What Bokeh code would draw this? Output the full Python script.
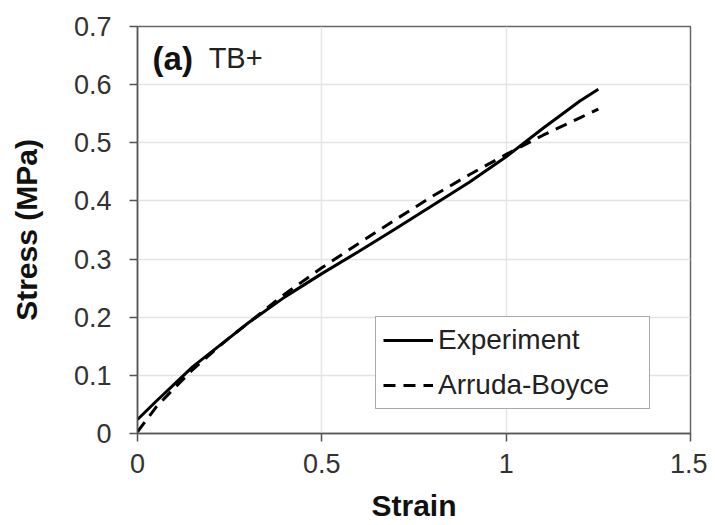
from bokeh.plotting import figure
from bokeh.models import Range1d, FixedTicker, NumeralTickFormatter, Label, Legend, LegendItem
from bokeh.embed import file_html
from bokeh.resources import INLINE

# ---- data ----
strain = [0, 0.05, 0.1, 0.15, 0.2, 0.25, 0.3, 0.4, 0.5, 0.6, 0.7, 0.8, 0.9, 1.0, 1.1, 1.2, 1.25]
experiment = [0.024, 0.055, 0.085, 0.115, 0.14, 0.165, 0.19, 0.235, 0.275, 0.313, 0.352,
              0.392, 0.432, 0.476, 0.525, 0.572, 0.592]
arruda_boyce = [0.003, 0.045, 0.078, 0.11, 0.138, 0.165, 0.19, 0.24, 0.285, 0.327, 0.368,
                0.408, 0.445, 0.48, 0.513, 0.543, 0.558]
x_ticks = [0, 0.5, 1, 1.5]
y_ticks = [0, 0.1, 0.2, 0.3, 0.4, 0.5, 0.6, 0.7]
series_names = ["Experiment", "Arruda-Boyce"]
panel_tag = "(a)"
panel_name = "TB+"

FONT = "Liberation Sans"

p = figure(frame_width=553, frame_height=407,
           min_border_left=137, min_border_right=17, min_border_top=26, min_border_bottom=60,
           output_backend="svg", toolbar_location=None,
           x_range=Range1d(0, 1.5), y_range=Range1d(0, 0.7))
p.background_fill_color = "white"
p.border_fill_color = "white"
p.outline_line_color = "#666666"
p.outline_line_width = 1.5

for ax in (p.xaxis[0], p.yaxis[0]):
    ax.axis_line_color = "#555555"
    ax.axis_line_width = 1.5
    ax.major_tick_line_color = "#555555"
    ax.major_tick_line_width = 1.5
    ax.major_tick_in = 0
    ax.major_tick_out = 8
    ax.minor_tick_line_color = None
    ax.major_label_text_font = FONT
    ax.major_label_text_font_size = "27px"
    ax.major_label_text_color = "#333333"
    ax.axis_label_text_font = FONT
    ax.axis_label_text_font_size = "30px"
    ax.axis_label_text_font_style = "bold"
    ax.axis_label_text_color = "#111111"
    ax.formatter = NumeralTickFormatter(format="0.[0]")

p.xaxis[0].ticker = FixedTicker(ticks=x_ticks)
p.yaxis[0].ticker = FixedTicker(ticks=y_ticks)
p.xaxis[0].axis_label = "Strain"
p.yaxis[0].axis_label = "Stress (MPa)"
p.xaxis[0].major_label_standoff = 12
p.xaxis[0].axis_label_standoff = 13
p.yaxis[0].major_label_standoff = 18
p.yaxis[0].axis_label_standoff = 28

p.xgrid.grid_line_color = "#e4e4e4"
p.ygrid.grid_line_color = "#e4e4e4"
p.xgrid.grid_line_width = 1.5
p.ygrid.grid_line_width = 1.5

r_exp = p.line(strain, experiment, line_color="black", line_width=3)
r_ab = p.line(strain, arruda_boyce, line_color="black", line_width=3, line_dash="12 8")

legend = Legend(items=[LegendItem(label=series_names[0], renderers=[r_exp]),
                       LegendItem(label=series_names[1], renderers=[r_ab])],
                location=(238, 24))
legend.label_text_font = FONT
legend.label_text_font_size = "28px"
legend.label_text_color = "#222222"
legend.glyph_width = 50
legend.glyph_height = 32
legend.label_height = 32
legend.label_width = 204
legend.label_standoff = 5
legend.padding = 7
legend.spacing = 13
legend.margin = 0
legend.border_line_color = "#555555"
legend.border_line_width = 1.5
legend.background_fill_alpha = 1
p.add_layout(legend, "center")

p.add_layout(Label(x=0.041, y=0.645, text=panel_tag, text_font=FONT, text_font_size="33px",
                   text_font_style="bold", text_baseline="middle", text_color="#111111"))
p.add_layout(Label(x=0.193, y=0.645, text=panel_name, text_font=FONT, text_font_size="29px",
                   text_baseline="middle", text_color="#222222"))

open("out.html", "w").write(file_html(p, INLINE))
